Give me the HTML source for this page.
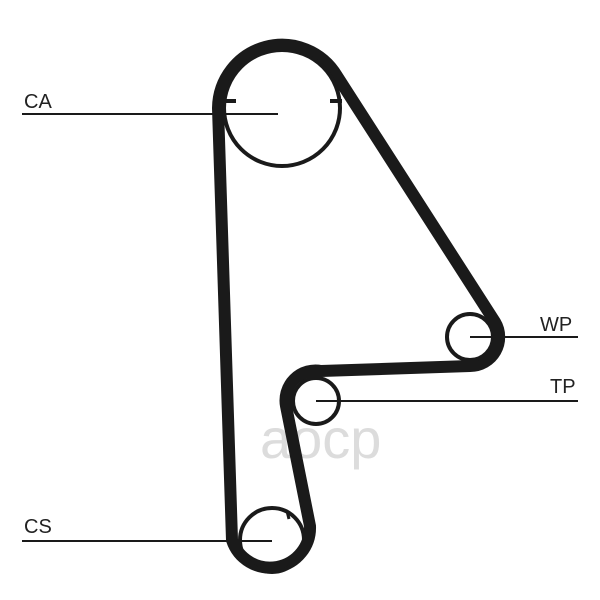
<!DOCTYPE html>
<html><head><meta charset="utf-8"><style>
html,body{margin:0;padding:0;background:#fff;}
svg{display:block}
text{font-family:"Liberation Sans",sans-serif;fill:#222}
</style></head><body>
<svg width="600" height="600" viewBox="0 0 600 600" xmlns="http://www.w3.org/2000/svg">
<text x="260" y="458" font-size="56" style="fill:#dcdcdc">aocp</text>
<g fill="none" stroke="#1a1a1a">
<path stroke-width="12" stroke-linejoin="round" d="M218,108 L232,540 A40,40 0 0 0 310,526 L286,406 A30,30 0 0 1 321,371 L470,366 A29,29 0 0 0 495,322 L337,76 A64,64 0 0 0 218,108 Z"/>
<circle cx="282" cy="108" r="58" stroke-width="4"/>
<circle cx="272" cy="540" r="32" stroke-width="4"/>
<circle cx="316" cy="401" r="23" stroke-width="4"/>
<circle cx="470" cy="337" r="23" stroke-width="4"/>
<line x1="224" y1="101" x2="236" y2="101" stroke-width="4"/>
<line x1="330" y1="101" x2="342" y2="101" stroke-width="4"/>
<line x1="287" y1="511" x2="289" y2="519" stroke-width="3"/>
<g stroke-width="2">
<line x1="22" y1="114" x2="278" y2="114"/>
<line x1="470" y1="337" x2="578" y2="337"/>
<line x1="316" y1="401" x2="578" y2="401"/>
<line x1="22" y1="541" x2="272" y2="541"/>
</g>
</g>
<text x="24" y="108" font-size="20">CA</text>
<text x="540" y="331" font-size="20">WP</text>
<text x="550" y="393" font-size="20">TP</text>
<text x="24" y="533" font-size="20">CS</text>
</svg>
</body></html>
